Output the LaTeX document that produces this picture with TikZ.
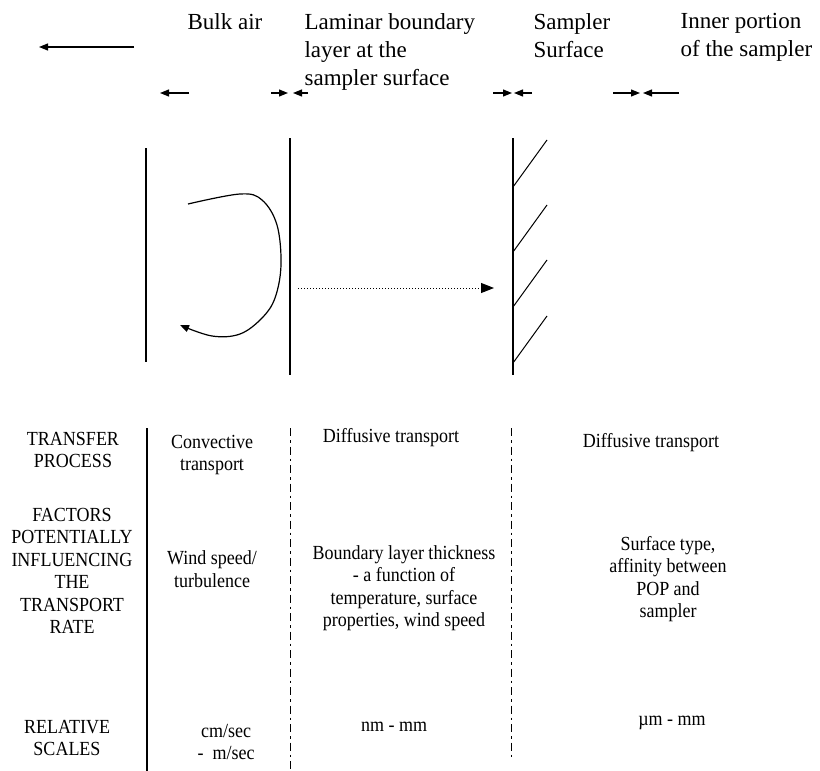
\documentclass[tikz,border=0pt]{standalone}
\usepackage{fontspec}
\setmainfont{Liberation Serif}
\newfontfamily\narrowserif[FakeStretch=0.9]{Liberation Serif}
\usetikzlibrary{arrows.meta}
\tikzset{
  headtext/.style={font=\fontsize{23}{28}\selectfont, align=left, anchor=north west, inner sep=0pt},
  celltext/.style={font=\narrowserif\fontsize{20}{22.5}\selectfont, align=center, inner sep=0pt},
  dashdot/.style={line width=1pt, dash pattern=on 8pt off 4pt on 2.5pt off 4pt},
}
\begin{document}
\begin{tikzpicture}[>={Triangle[length=9pt,width=7pt]},x=1pt,y=-1pt,line width=1.2pt]
  \useasboundingbox (0,0) rectangle (820,771);
  % zone headings
  \node[headtext] (bulk) at (187,13) {Bulk air};
  \node[headtext] (laminar) at (304,13) {Laminar boundary\\layer at the\\sampler surface};
  \node[headtext] (surf) at (533,13) {Sampler\\Surface};
  \node[headtext] (inner) at (680,13) {Inner portion\\of the sampler};
  \draw[->] (134,47) -- (39,47);
  \draw[->] (189,93) -- (160,93);
  \foreach \a/\b/\c/\d in {271/288/293/308, 493/512/514/532, 613/640/643/679}
    {\draw[->] (\a,93) -- (\b,93); \draw[->] (\d,93) -- (\c,93);}
  % walls and transport
  \draw (146,148) -- (146,362);
  \draw (290,138) -- (290,375);
  \draw (513,138) -- (513,375);
  \foreach \y in {187,252,307,363} \draw[line width=1pt] (513,\y) -- ++(34,-47);
  \draw[->] plot[smooth,tension=.6] coordinates{(188,204) (240,194) (262,200) (277,225) (281,265) (275,298) (262,318) (240,334) (212,336) (180,325)};
  \draw[dotted,line width=1pt,-{Triangle[length=13pt,width=10pt]}] (298,288) -- (494,288);
  % table
  \draw (147,428) -- (147,771);
  \draw[dashdot] (290,428) -- (290,771);
  \draw[dashdot] (511,428) -- (511,757);
  \node[celltext] (proc) at (73,450) {TRANSFER\\PROCESS};
  \node[celltext] (conv) at (212,455) {Convective\\transport};
  \node[celltext] (diff) at (391,438) {Diffusive transport};
  \node[celltext] (diffin) at (651,443) {Diffusive transport};
  \node[celltext] (fact) at (72,571) {FACTORS\\POTENTIALLY\\INFLUENCING\\THE\\TRANSPORT\\RATE};
  \node[celltext] (wind) at (212,569) {Wind speed/\\turbulence};
  \node[celltext] (thick) at (404,588) {Boundary layer thickness\\- a function of\\temperature, surface\\properties, wind speed};
  \node[celltext] (affin) at (668,579) {Surface type,\\affinity between\\POP and\\sampler};
  \node[celltext] (scale) at (67,738) {RELATIVE\\SCALES};
  \node[celltext] (cms) at (226,742) {cm/sec\\-\ \ m/sec};
  \node[celltext] (nm) at (394,727) {nm - mm};
  \node[celltext] (um) at (672,723) {µm - mm};
\end{tikzpicture}
\end{document}
